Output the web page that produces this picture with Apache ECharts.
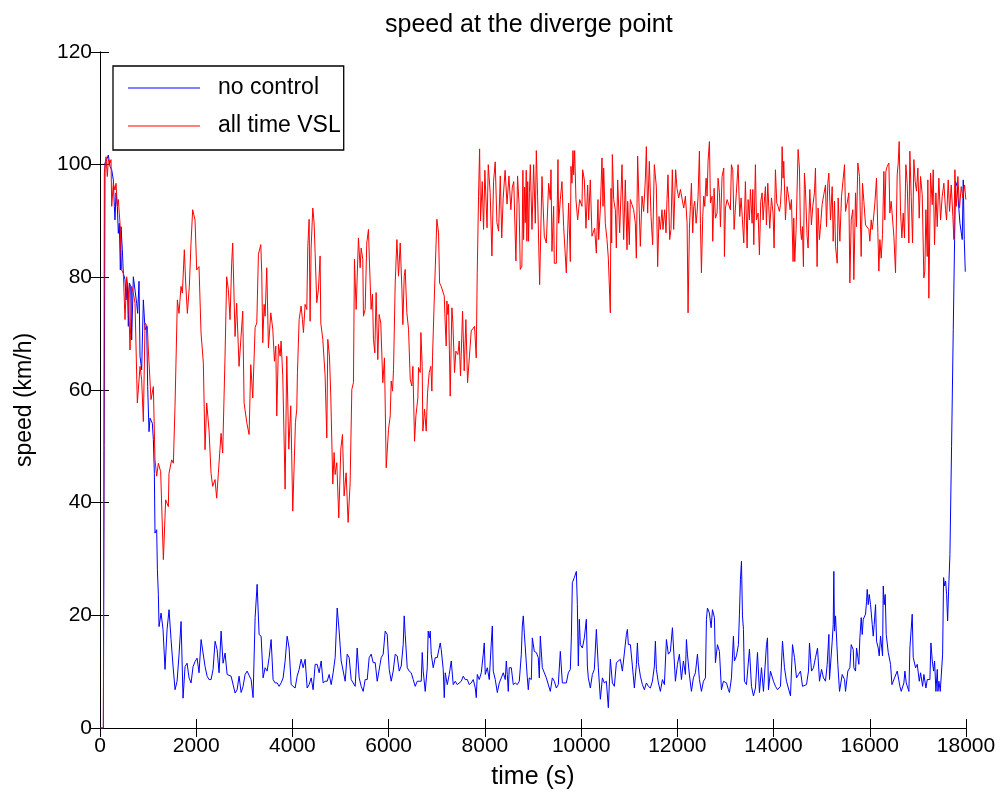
<!DOCTYPE html>
<html>
<head>
<meta charset="utf-8">
<script src="https://cdn.jsdelivr.net/npm/echarts@6/dist/echarts.min.js"></script>
<style>
html,body{margin:0;padding:0;background:#fff;}
#chart{width:1006px;height:798px;}
</style>
</head>
<body>
<div id="chart"></div>
<script>
// ---- data (time in s, speed in km/h) ----
const chartTitle = 'speed at the diverge point';
const xName = 'time (s)';
const yName = 'speed (km/h)';
const seriesNames = ['no control', 'all time VSL'];
const xMin = 0, xMax = 18000, xStep = 2000;
const yMin = 0, yMax = 120, yStep = 20;

const noControl = [
[0,0],[70,0],[104,100.3],[139,100.9],[173,101.7],[208,99.7],[243,99.1],[277,97.3],[298,92.6],[312,90.2],[333,95],[360,92.6],[381,87.8],[402,89.6],[423,81.3],[437,89],[464,84.9],[485,80.7],[520,79.6],[541,76],[568,79],[589,71.3],[610,79],[638,78.4],[658,68.9],[693,80.1],[728,80.1],[762,75.4],[783,73.6],[811,79.3],[832,66],[866,63.6],[901,76],[936,70.7],[970,71.3],[991,60.6],[1019,52.6],[1040,55],[1088,54.1],[1109,51.2],[1130,45.2],[1143,34.6],[1178,35.2],[1193,28.1],[1213,23.7],[1227,18],[1269,20.4],[1310,17.5],[1352,10.4],[1394,17.5],[1435,21],[1477,15.7],[1518,11],[1560,6.8],[1602,8.3],[1643,13],[1685,18.9],[1726,5.3],[1768,10.9],[1810,11.5],[1851,8.9],[1893,8],[1934,10.9],[1976,11.8],[2018,12.4],[2059,9.8],[2101,15.7],[2142,15.7],[2184,10.9],[2226,9.2],[2267,8.6],[2309,8.6],[2350,10.4],[2392,15.4],[2434,13.9],[2475,9.8],[2517,17.2],[2558,11.5],[2600,13.3],[2642,9.5],[2683,9.2],[2725,9.2],[2766,8.9],[2808,6.2],[2850,6.8],[2891,9.2],
[2933,6.3],[2974,7.4],[3016,9.5],[3058,10.1],[3099,9.8],[3141,8.6],[3182,5.4],[3224,19.6],[3266,25.5],[3307,16.6],[3349,16.3],[3390,8.9],[3432,10.7],[3474,10.1],[3515,12.5],[3557,15.7],[3598,8.6],[3640,8],[3682,8],[3723,7.4],[3765,8],[3806,8.9],[3848,11.9],[3890,16.3],[3931,14.2],[3973,7.7],[4014,7.4],[4056,7.1],[4098,9.2],[4139,10.4],[4181,12.2],[4222,10.7],[4264,12.2],[4306,7.1],[4347,7.7],[4389,8.9],[4430,6.8],[4472,11.3],[4514,11.3],[4555,9.8],[4597,11.9],[4638,8],[4680,8.3],[4722,8.3],[4763,9.5],[4805,7.7],[4846,9.8],[4888,12.5],[4930,21.3],[4971,17.2],[5013,11.9],[5054,12.2],[5096,8.3],[5138,13.1],[5179,12.5],[5221,8.6],[5262,8.3],[5304,7.4],[5346,14.2],[5387,8.9],[5429,7.4],[5470,6.5],[5512,8.6],[5554,8.6],[5595,12.5],[5637,13.1],[5678,11.6],[5720,11.6],[5762,8.3],[5803,8],[5845,12.5],[5886,13.1],[5928,17.2],
[5970,16.6],[6011,10.4],[6053,8.3],[6094,10.1],[6136,13.1],[6178,12.8],[6219,10.1],[6261,11],[6302,14.8],[6323,19.9],[6344,16.6],[6386,10.7],[6427,10.1],[6469,9.8],[6510,8.6],[6552,7.4],[6594,8.3],[6635,8.3],[6677,8.3],[6698,13.4],[6718,10.1],[6760,6.5],[6802,10.7],[6822,17.2],[6843,16],[6864,17.2],[6885,13.1],[6926,10.7],[6968,12.5],[7010,12.5],[7051,12.5],[7072,15.1],[7093,13.9],[7134,10.4],[7155,5.4],[7176,9.8],[7218,7.7],[7259,9.5],[7301,11.9],[7342,7.7],[7384,8.3],[7426,7.7],[7467,7.4],[7509,8.3],[7550,9.2],[7592,8.6],[7634,8.6],[7675,7.7],[7717,8],[7758,8.6],[7800,7.1],[7821,5.4],[7842,9.5],[7883,8.6],[7925,9.8],[7966,13.1],[7987,15.1],[8008,9.5],[8050,10.7],[8091,8.6],[8133,15.1],[8154,18.1],[8174,10.1],[8216,8.6],[8258,6.3],[8299,8],[8341,8.9],[8382,9.8],[8424,8.6],[8445,11.9],[8466,9.5],[8486,6.5],[8507,10.7],[8549,10.7],[8590,7.7],[8632,8],[8674,7.7],[8715,8.3],[8757,13.1],[8778,18.1],[8798,19.9],[8819,16.9],[8840,16.9],[8882,8.9],[8902,6.8],[8923,8.9],[8965,8.6],[8986,16],[9027,13.6],
[9069,13.4],[9110,12.5],[9131,8.9],[9152,16.3],[9194,10.7],[9235,10.4],[9277,8.9],[9318,8.6],[9360,6.5],[9402,8.9],[9443,8.3],[9485,7.1],[9526,7.7],[9568,13.6],[9610,8],[9651,7.7],[9693,8],[9734,9.8],[9776,10.4],[9797,16],[9818,25.8],[9859,26.7],[9901,27.8],[9922,21.9],[9942,11],[9963,19.3],[9984,14.8],[10026,14.2],[10067,16],[10109,19.3],[10130,11],[10150,8.9],[10192,7.1],[10234,9.5],[10275,10.4],[10317,17.5],[10358,10.7],[10400,5.1],[10442,8.9],[10483,8],[10525,8.3],[10566,3.6],[10608,12.2],[10650,8],[10691,7.4],[10733,11.6],[10774,11.3],[10816,12.2],[10858,10.1],[10899,9.8],[10941,16.6],[10962,17.5],[10982,14.8],[11024,14.8],[11066,11],[11107,7.1],[11149,11.3],[11170,15.1],[11190,11.6],[11232,9.2],[11274,7.7],[11315,6.8],[11357,8],[11398,7.4],[11440,7.1],[11482,8.3],[11523,11],[11544,15.4],[11565,10.4],[11606,8],[11648,6.5],[11690,8.6],[11731,7.7],[11773,15.7],[11814,13.1],[11856,13.6],[11898,17.8],[11918,18.1],[11960,8.3],[12002,11.3],[12043,13.1],
[12085,8.6],[12126,11.9],[12168,9.5],[12189,15.7],[12210,13.1],[12251,9.4],[12293,6.5],[12334,8.9],[12376,9.8],[12418,13.1],[12459,8.6],[12501,6.5],[12542,8.3],[12584,8.9],[12605,19.3],[12626,21.3],[12667,20.4],[12702,17.8],[12730,21],[12771,19.6],[12792,11.6],[12834,14.8],[12875,13.6],[12917,6.8],[12958,8.3],[13021,8],[13062,6.8],[13083,6.3],[13125,8.9],[13166,16.3],[13187,11.9],[13229,12.8],[13270,14.8],[13291,20.2],[13312,26.4],[13333,29.6],[13354,19.9],[13374,17.5],[13395,8.3],[13437,7.7],[13478,7.4],[13499,14],[13541,7.4],[13582,5.7],[13624,7.1],[13666,13.4],[13707,6.3],[13749,10.7],[13790,6.5],[13853,14.8],[13874,16],[13894,6.8],[13936,10.1],[13998,8.3],[14040,7.4],[14082,6.8],[14144,7.4],[14186,15.4],[14227,10.7],[14269,8.3],[14310,8],[14352,5.7],[14394,14.8],[14435,12.5],[14477,8.9],[14518,9.5],[14560,10.1],[14602,7.4],[14643,7.7],[14685,7.7],[14726,10.1],[14747,15.1],[14789,10.1],[14830,10.7],[14872,12.5],[14914,14.2],[14955,8.3],[14997,10.4],[15038,8.9],[15080,8.3],
[15115,11.3],[15150,16.6],[15163,8.6],[15219,15.4],[15240,18.4],[15253,27.8],[15267,17.2],[15288,19.9],[15336,11.3],[15371,6.5],[15427,9.5],[15475,8.6],[15496,6.5],[15544,10.1],[15586,10.7],[15614,14.8],[15656,13.9],[15669,10.7],[15704,10.1],[15725,14.2],[15773,11.3],[15794,16],[15822,19.6],[15843,16.6],[15864,19.3],[15912,20.2],[15933,22.5],[15947,24.6],[15968,21.9],[15989,23.7],[16016,21.9],[16051,18.4],[16072,16.3],[16092,18.4],[16120,21.9],[16141,15.4],[16176,14.2],[16196,12.8],[16224,16.3],[16266,12.8],[16280,25.2],[16300,21.9],[16321,23.7],[16342,16.6],[16384,13.4],[16432,11.3],[16460,7.7],[16515,8.9],[16571,10.1],[16626,7.4],[16654,6.5],[16709,8],[16730,10.1],[16758,8],[16813,6.5],[16834,14.2],[16861,13.9],[16882,20.2],[16903,12.5],[16952,10.7],[16987,11.3],[17029,8.3],[17056,9.8],[17098,7.4],[17125,9.5],[17167,7.1],[17195,8.6],[17250,8.6],[17271,15.1],[17299,11.9],[17327,10.1],[17347,11.9],[17375,6.5],[17403,10.4],[17417,6.5],[17437,8.3],[17465,6.5],[17486,6.5],[17514,13.1],[17534,26.7],[17555,25.2],[17576,26.1],[17597,23.7],[17618,19],[17638,24.3],[17666,30.8],[17700,50],[17735,70.7],[17763,86.7],[17784,97],[17818,96.1],[17853,92],[17874,89.6],[17922,86.7],[17943,97.3],[17964,86.7],[17985,81]
];

const allTimeVSL = [
[0,0],[70,0],[90,98.5],[125,101.4],[152,97.9],[173,100.9],[208,100.3],[229,100.9],[243,92.6],[277,96.7],[312,95.5],[333,96.7],[360,92.6],[381,93.8],[416,89.6],[450,81.3],[485,80.7],[520,72.5],[554,80.1],[589,77.8],[624,67.1],[658,78.4],[693,77.2],[728,75.4],[776,57.7],[832,64.2],[866,61.8],[901,54.4],[936,71.9],[984,71.3],[1005,67.1],[1060,58.3],[1109,60.6],[1143,47.6],[1178,44.7],[1213,47],[1261,45.5],[1317,29.9],[1365,40.5],[1421,39.3],[1434,45.2],[1490,47.6],[1525,47],[1559,57.1],[1608,76],[1642,73.6],[1684,78.4],[1712,77.2],[1753,84.9],[1781,79],[1816,73.6],[1857,78.4],[1892,86.1],[1926,92],[1975,90.2],[2010,81.3],[2058,81.9],[2100,70.1],[2148,64.8],[2183,49.4],[2218,57.7],[2266,52.9],[2308,45.2],[2342,42.9],[2391,44.1],[2425,40.8],[2460,45.2],[2516,52.3],[2550,48.8],[2599,66],[2633,80.1],[2668,77.8],[2703,72.5],[2737,82.5],[2758,86.1],[2807,69.5],[2841,75.4],[2890,64.2],
[2967,74],[2995,57.7],[3051,54.2],[3099,52.1],[3134,64.5],[3175,58.6],[3224,71.1],[3259,71.9],[3293,84.1],[3342,85.8],[3362,80.8],[3383,68.4],[3411,75.2],[3432,73.1],[3466,81.7],[3501,67.5],[3550,73.7],[3591,70.8],[3626,65.1],[3654,67.8],[3674,55.4],[3709,68.1],[3744,66],[3764,68.7],[3799,62.5],[3848,42.4],[3882,66],[3924,49.5],[3965,57.2],[4007,38.5],[4042,38.8],[4062,54.2],[4090,56.6],[4104,63.1],[4139,72.5],[4180,74.9],[4208,72.5],[4229,70.2],[4263,75.2],[4298,74.3],[4319,85.5],[4347,90.3],[4367,72.2],[4388,85.2],[4423,92.3],[4450,89.7],[4471,84.4],[4506,75.5],[4541,77.9],[4575,83.8],[4589,71.9],[4631,69],[4679,62.5],[4714,51.5],[4735,69],[4769,66],[4797,58.9],[4839,43.3],[4866,48.9],[4887,45],[4922,47.1],[4963,37.3],[5005,49.5],[5040,52.1],[5074,41.2],[5116,45.3],[5157,36.5],[5199,43.5],[5234,60.1],[5268,61.3],[5289,83.2],[5324,74.3],[5372,87],[5407,81.7],[5428,85.2],[5462,83.2],[5476,73.1],[5511,74.3],[5545,86.1],[5580,88.5],[5601,82.6],[5635,74.3],[5663,77],[5684,69],[5712,66.6],[5739,77.3],[5774,65.4],[5802,73.4],[5836,71.9],[5878,61.3],[5913,65.7],
[5949,46.2],[5997,53],[6032,55.4],[6053,61.6],[6080,59.8],[6101,63.7],[6136,79],[6171,86.7],[6205,80.2],[6240,86.1],[6275,77.9],[6295,71.6],[6323,80.2],[6344,81.4],[6378,73.7],[6413,70.8],[6448,61.9],[6482,60.7],[6503,64.2],[6538,50.9],[6566,55.4],[6607,58.6],[6621,64],[6656,63.1],[6670,70.2],[6697,64.2],[6711,52.7],[6746,56.6],[6780,52.7],[6808,59.5],[6843,63.1],[6877,64.2],[6898,59.8],[6912,66],[6954,77.9],[7002,90.3],[7037,87.9],[7058,79],[7092,78.4],[7127,78.4],[7155,76.7],[7175,71.9],[7196,67.8],[7210,75.8],[7231,73.4],[7245,75.2],[7279,58.9],[7314,74.6],[7335,71.9],[7369,63.1],[7397,66.9],[7439,66.3],[7466,68.7],[7494,62.5],[7536,74],[7570,63.4],[7605,72.5],[7640,61.3],[7674,61.6],[7716,70.5],[7751,70.8],[7785,71.3],[7820,65.7],[7841,80.8],[7868,94.4],[7890,102.8],[7910,90],[7945,97],[7972,88.5],[8000,99],[8045,88.8],[8070,100],[8110,95],[8146,83.8],[8180,97],[8215,100.5],[8250,89.7],[8285,88.2],[8320,98],[8350,87],[8380,94],[8420,99],[8460,93],[8500,98],[8540,92],[8570,96],[8600,97],[8645,82.9],[8679,98],[8710,93],[8735,81.4],[8769,82],[8790,99],[8804,86.7],[8825,96],[8839,89.7],[8860,99],[8873,86.4],[8890,97],[8908,86.4],[8925,95],
[8944,100],[8979,88.5],[9013,100],[9048,89.6],[9069,102.5],[9096,94.4],[9138,78.7],[9187,97.9],[9235,87.3],[9277,86.1],[9325,96.7],[9360,93.8],[9374,99.1],[9394,84.6],[9429,92.6],[9443,82.5],[9485,82.5],[9519,100.9],[9533,89.6],[9568,93.8],[9602,97],[9637,89],[9692,80.8],[9741,93.2],[9776,82.8],[9789,99.7],[9810,96.7],[9831,102.5],[9845,98.2],[9866,102.5],[9893,93.8],[9928,90.2],[9970,93.8],[10018,92.6],[10032,99.1],[10067,97.3],[10101,88.7],[10136,96.4],[10157,90.2],[10191,97.3],[10226,87.3],[10261,87],[10281,88.7],[10316,84.3],[10351,93.8],[10365,86.7],[10399,92],[10434,101.2],[10455,92.6],[10469,99.4],[10503,89.6],[10538,86.7],[10566,83.4],[10607,73.7],[10621,95.8],[10635,86.1],[10649,101.8],[10677,93.8],[10711,92],[10732,85.2],[10760,97.3],[10801,87.9],[10850,100],[10884,86.7],[10919,97.3],[10954,84.9],[10968,93.5],[11002,85.8],[11023,93.8],[11058,92.9],[11092,92],[11127,89.6],[11148,83.4],[11175,101.5],[11203,93.2],[11231,85.5],[11266,94.4],[11300,91.7],[11335,97.3],[11356,103.2],[11383,91.4],[11418,100.6],[11453,90.8],[11487,85.8],[11522,100],[11564,96.1],[11591,81.9],[11619,90.8],[11647,88.5],[11681,92],[11702,88.5],[11737,92],[11765,87.9],[11785,93.8],[11806,98.2],[11841,86.7],[11868,88.5],[11896,99.1],[11924,88.5],[11965,99.1],[11993,95.8],[12028,94.1],
[12064,95.6],[12099,95.6],[12133,92.3],[12168,94.4],[12203,89.6],[12223,73.7],[12251,88.7],[12272,92.6],[12293,96.7],[12320,87.9],[12341,92.6],[12362,93.5],[12390,89.6],[12410,91.4],[12431,94.4],[12459,102.4],[12480,89.6],[12501,80.8],[12528,90.8],[12549,94.4],[12570,92.6],[12598,97.6],[12618,94.4],[12639,100.6],[12653,102.4],[12667,104.1],[12688,93.2],[12722,94.4],[12736,86.4],[12764,95.8],[12792,90.5],[12826,91.4],[12847,97.6],[12875,95],[12896,89],[12930,97.9],[12965,99.4],[12979,83.7],[13000,92.3],[13034,93.8],[13069,93.5],[13103,92],[13124,100],[13152,99.1],[13180,88.5],[13207,92.3],[13242,92.6],[13263,100],[13297,90.8],[13325,94.1],[13353,90.2],[13381,86.1],[13415,97],[13450,85.2],[13471,93.8],[13498,90.2],[13519,95.6],[13554,89.6],[13568,95.6],[13589,85.8],[13623,100],[13644,90.2],[13679,91.4],[13706,84],[13734,93.5],[13762,95],[13783,90.2],[13803,92.9],[13831,96.1],[13852,89.3],[13880,96.7],[13900,92.6],[13921,88.7],[13956,94.1],[13990,91.4],[14011,85.2],[14039,99.1],[14067,93.2],[14094,92.6],[14122,91.7],[14143,92.9],[14164,96.1],[14178,103.2],[14198,97.6],[14212,100.6],[14247,90.2],[14282,96.1],[14316,94.1],[14344,92],[14372,93.8],[14406,82.8],[14420,90.5],[14441,82.8],[14469,88.5],[14510,102.7],[14538,99.4],[14559,88.7],[14580,86.7],[14600,89],[14621,81.9],[14642,98.5],[14663,95.6],[14697,87.3],[14718,85.2],[14753,95.6],[14787,89.3],[14815,92.6],[14850,95],[14871,99.4],[14905,81.9],[14926,92.3],[14954,86.7],[14981,89.6],[15009,92.9],[15044,94.7],
[15080,96.4],[15101,89],[15128,96.7],[15149,98.5],[15184,90.2],[15219,96.1],[15239,86.4],[15267,93.5],[15288,85.5],[15323,82.5],[15343,94.1],[15378,86.4],[15413,94.4],[15447,94.4],[15475,100],[15496,91.7],[15530,93.2],[15565,95],[15586,79],[15614,90.2],[15648,92],[15669,79.6],[15704,95],[15724,89],[15752,100.3],[15787,97.9],[15821,83.7],[15849,96.7],[15877,93.5],[15912,89.3],[15946,89],[15981,88.5],[16002,86.4],[16029,90.2],[16050,88.5],[16071,89.9],[16106,93.2],[16140,97.6],[16168,87.9],[16189,81.1],[16210,86.7],[16237,83.4],[16265,87.6],[16293,98.8],[16313,90.2],[16334,98.8],[16362,99.7],[16397,100.3],[16417,91.4],[16445,93.5],[16466,93.5],[16501,87.3],[16535,80.8],[16570,98.2],[16591,100.3],[16611,104.1],[16639,91.7],[16667,87],[16695,91.4],[16722,87],[16750,100],[16778,96.7],[16812,86.1],[16833,102.4],[16861,94.4],[16889,86.1],[16916,100.9],[16944,97],[16972,95.3],[17000,99.4],[17027,90.5],[17055,97.9],[17090,94.7],[17124,79.9],[17145,81.1],[17166,92],[17194,83.7],[17207,97.3],[17228,76.3],[17263,98.5],[17298,92.9],[17318,99.1],[17346,85.8],[17374,95],[17402,89],[17436,97.6],[17471,90.2],[17506,94.4],[17540,96.7],[17575,92],[17596,90.2],[17630,97.3],[17658,91.7],[17693,96.4],[17727,90.8],[17748,86.7],[17769,99.1],[17797,92.6],[17831,97.9],[17866,92.3],[17900,96.1],[17935,94.1],[17970,96.4],[17997,93.8]
];

// ---- chart ----
const FONT = '"Liberation Sans", Arial, Helvetica, sans-serif';
const chart = echarts.init(document.getElementById('chart'), null, {renderer: 'canvas'});
const axisCommon = {
  axisLine: {show: true, lineStyle: {color: '#000', width: 1}},
  axisTick: {show: true, inside: true, length: 9, lineStyle: {color: '#000', width: 1}},
  splitLine: {show: false}
};
const plain = v => String(v);
chart.setOption({
  animation: false,
  backgroundColor: '#fff',
  title: {
    text: chartTitle, left: 380, top: 8,
    textStyle: {fontFamily: FONT, fontSize: 25, fontWeight: 'normal', color: '#000'}
  },
  legend: {
    orient: 'vertical', left: 113, top: 66,
    padding: [10, 3, 12, 15], itemGap: 14, itemWidth: 72, itemHeight: 1,
    icon: 'rect',
    borderColor: '#000', borderWidth: 1.3, backgroundColor: '#fff',
    textStyle: {fontFamily: FONT, fontSize: 23, lineHeight: 24, color: '#000', padding: [0, 0, 0, 13]},
    data: seriesNames
  },
  grid: {left: 100, right: 40, top: 52, bottom: 70, containLabel: false},
  xAxis: [
    Object.assign({}, axisCommon, {
      type: 'value', min: xMin, max: xMax, interval: xStep, position: 'bottom',
      name: xName, nameLocation: 'middle', nameGap: 37,
      nameTextStyle: {fontFamily: FONT, fontSize: 25, color: '#000'},
      axisLabel: {fontFamily: FONT, fontSize: 21, color: '#000', margin: 8, formatter: plain}
    }),
    Object.assign({}, axisCommon, {
      type: 'value', min: xMin, max: xMax, interval: xStep, position: 'top',
      axisLabel: {show: false}
    })
  ],
  yAxis: [
    Object.assign({}, axisCommon, {
      type: 'value', min: yMin, max: yMax, interval: yStep, position: 'left',
      name: yName, nameLocation: 'middle', nameGap: 64,
      nameTextStyle: {fontFamily: FONT, fontSize: 23, color: '#000', padding: [0, 20, 0, 0]},
      axisLabel: {fontFamily: FONT, fontSize: 21, color: '#000', margin: 8, formatter: plain}
    }),
    Object.assign({}, axisCommon, {
      type: 'value', min: yMin, max: yMax, interval: yStep, position: 'right',
      axisLabel: {show: false}
    })
  ],
  series: [
    {name: seriesNames[0], type: 'line', data: noControl, symbol: 'none', showSymbol: false,
     lineStyle: {color: '#0000ff', width: 1}, itemStyle: {color: '#0000ff'}, z: 3},
    {name: seriesNames[1], type: 'line', data: allTimeVSL, symbol: 'none', showSymbol: false,
     lineStyle: {color: '#ff0000', width: 1}, itemStyle: {color: '#ff0000'}, z: 4}
  ]
});
</script>
</body>
</html>
